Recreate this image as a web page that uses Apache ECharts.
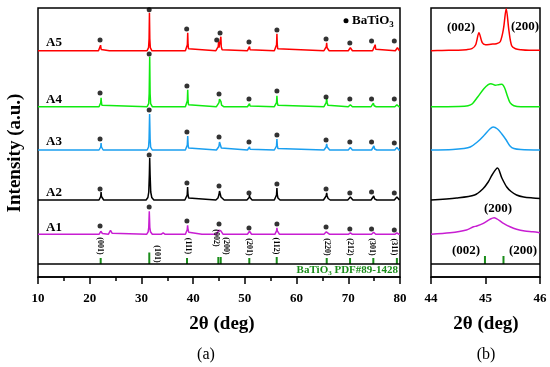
<!DOCTYPE html>
<html><head><meta charset="utf-8">
<script src="https://cdn.jsdelivr.net/npm/echarts@6/dist/echarts.min.js"></script>
<style>html,body{margin:0;padding:0;background:#fff}#c{width:550px;height:367px}</style>
</head><body><div id="c"></div>
<script>
// ---------------- DATA ----------------
const sampleNames = ['A1', 'A2', 'A3', 'A4', 'A5'];
const xTicksLeft = [10, 20, 30, 40, 50, 60, 70, 80];
const xTicksRight = [44, 45, 46];

// full pattern, 2theta (deg) vs intensity above each sample's own baseline (a.u.)
const fullA1 = [[10,0],
 [21.8,0],[22.05,1],[22.15,3],[22.22,4.3],[22.3,2],[22.45,0.8],[22.7,0],
 [23.6,0],[23.9,1.5],[24.02,4],[24.1,5.3],[24.2,3.5],[24.35,1],[24.6,0],
 [31.0,0],[31.3,2.5],[31.42,7],[31.52,23],[31.62,7],[31.75,2.5],[32.1,0],
 [33.8,0],[34.2,1.5],[34.6,0],
 [38.5,0],[38.75,2],[38.85,4.5],[38.93,9],[39.02,4.5],[39.15,2],[39.4,0],
 [41.7,0],[42.0,1.2],[42.3,0],
 [44.5,0],[44.8,2],[44.95,4],[45.1,5.5],[45.2,6],[45.35,3.5],[45.5,1.5],[45.8,0],
 [46.2,0],[46.5,0.8],[46.8,0],
 [50.5,0],[50.8,1],[50.9,3],[51.0,1],[51.3,0],
 [55.8,0],[56.05,1.5],[56.13,3.5],[56.2,6.5],[56.28,3.5],[56.4,1.5],[56.7,0],
 [65.3,0],[65.6,1],[65.75,2.5],[65.83,3.5],[65.92,2],[66.1,0.8],[66.4,0],
 [70.0,0],[70.4,1.5],[70.8,0],
 [74.5,0],[74.9,2],[75.3,0],
 [79.0,0],[79.4,1.5],[79.8,0],
 [80,0]];
const fullA2 = [[10,0],
 [21.8,0],[22.05,1.5],[22.13,3.5],[22.2,8],[22.27,3.5],[22.38,1.5],[22.7,0],
 [30.9,0],[31.25,2.5],[31.42,8],[31.53,25],[31.6,42],[31.68,25],[31.8,8],[32.0,2.5],[32.4,0],
 [38.4,0],[38.72,2],[38.85,5],[38.93,13],[39.01,5],[39.14,2],[39.5,0],
 [44.4,0],[44.8,2],[44.98,5],[45.1,9],[45.15,10],[45.25,7],[45.38,3],[45.6,1],[46.0,0],
 [50.4,0],[50.72,1.2],[50.83,2.5],[50.9,5],[50.98,2.5],[51.1,1.2],[51.4,0],
 [55.7,0],[56.0,2],[56.12,5],[56.2,12],[56.28,5],[56.4,2],[56.8,0],
 [65.2,0],[65.55,1.5],[65.72,4],[65.82,7],[65.92,4],[66.1,1.5],[66.5,0],
 [69.9,0],[70.25,1],[70.4,3],[70.55,1],[70.9,0],
 [74.4,0],[74.75,1.2],[74.92,4],[75.08,1.2],[75.5,0],
 [78.9,0],[79.25,1],[79.4,3],[79.55,1],[79.9,0],
 [80,0]];
const fullA3 = [[10,0],
 [21.8,0],[22.05,1.2],[22.13,3],[22.2,7],[22.27,3],[22.35,1.2],[22.6,0],
 [23.7,0],[24.0,2],[24.3,0],
 [31.1,0],[31.38,3],[31.48,11],[31.58,36],[31.68,11],[31.78,3],[32.1,0],
 [38.5,0],[38.78,2],[38.87,5],[38.95,14],[39.03,5],[39.12,2],[39.4,0],
 [44.5,0],[44.8,1],[44.98,3.5],[45.1,8],[45.17,9.5],[45.3,6],[45.45,2],[45.8,0],
 [50.5,0],[50.8,0.8],[50.9,3],[51.0,0.8],[51.3,0],
 [55.7,0],[56.0,1.5],[56.12,4],[56.2,11],[56.28,4],[56.4,1.5],[56.7,0],
 [65.3,0],[65.6,1.2],[65.72,3],[65.82,6],[65.92,3],[66.05,1.2],[66.4,0],
 [70.0,0],[70.4,2.5],[70.8,0],
 [74.5,0],[74.8,1],[74.95,4],[75.1,1],[75.5,0],
 [79.0,0],[79.4,2.5],[79.8,0],
 [80,0]];
const fullA4 = [[10,0],
 [21.8,0],[22.05,1.5],[22.13,4],[22.2,9],[22.27,4],[22.35,1.5],[22.6,0],
 [31.1,0],[31.4,3],[31.5,13],[31.6,50],[31.68,13],[31.78,3],[32.1,0],
 [38.5,0],[38.8,2],[38.88,6],[38.95,17],[39.02,6],[39.1,2],[39.4,0],
 [44.5,0],[44.85,1.5],[45.0,4],[45.1,7.5],[45.25,8],[45.38,5],[45.5,1.5],[45.9,0],
 [50.5,0],[50.8,0.8],[50.9,3],[51.0,0.8],[51.3,0],
 [55.7,0],[56.0,1.5],[56.12,4],[56.2,11],[56.28,4],[56.4,1.5],[56.7,0],
 [65.3,0],[65.6,1.5],[65.72,4],[65.82,8],[65.92,4],[66.05,1.5],[66.4,0],
 [70.0,0],[70.4,2],[70.8,0],
 [74.4,0],[74.7,1],[74.85,3.5],[75.0,1],[75.4,0],
 [79.0,0],[79.4,2],[79.8,0],
 [80,0]];
const fullA5 = [[10,0],
 [21.7,0],[21.98,1.2],[22.1,5.5],[22.22,1.2],[22.5,0],
 [23.8,0],[24.1,1],[24.4,0],
 [31.1,0],[31.38,3],[31.48,12],[31.55,38],[31.62,12],[31.72,3],[32.0,0],
 [38.5,0],[38.8,2],[38.88,6],[38.95,18],[39.02,6],[39.1,2],[39.4,0],
 [44.4,0],[44.75,1.5],[44.85,4],[44.92,9],[45.0,3],[45.15,2.5],[45.28,5],[45.36,14],[45.44,4],[45.6,1],[45.9,0],
 [50.5,0],[50.8,1],[50.9,4],[51.0,1],[51.3,0],
 [55.7,0],[56.05,2],[56.13,6],[56.2,17],[56.27,6],[56.35,2],[56.7,0],
 [65.3,0],[65.65,1.5],[65.75,4],[65.82,8],[65.9,3],[66.0,1],[66.3,0],
 [70.0,0],[70.3,1],[70.4,3],[70.5,1],[70.8,0],
 [74.7,0],[75.05,1.5],[75.2,6],[75.3,1.5],[75.6,0],
 [79.1,0],[79.4,1],[79.5,3],[79.6,1],[79.9,0],
 [80,0]];

// BaTiO3 marker dots (2theta, height above baseline)
const dotsA1 = [[22.0,8.3],[31.5,27.3],[38.8,13.3],[45.0,10.3],[50.8,6.3],[56.2,10.3],[65.7,7.3],[70.3,5.3],[74.5,5.3],[78.9,4.3]];
const dotsA2 = [[22.0,11],[31.5,45],[38.8,17],[45.0,14],[50.8,7],[56.2,16],[65.7,11],[70.3,7],[74.5,8],[78.9,7]];
const dotsA3 = [[22.0,11],[31.5,40],[38.8,18],[45.0,13],[50.8,8],[56.2,15],[65.7,10],[70.3,8],[74.5,8],[78.9,7]];
const dotsA4 = [[22.0,13.7],[31.5,52.7],[38.8,20.7],[45.0,12.7],[50.8,7.7],[56.2,15.7],[65.7,9.7],[70.3,7.7],[74.5,7.7],[78.9,7.7]];
const dotsA5 = [[22.0,10.7],[31.5,41],[38.75,21.7],[44.56,10.7],[45.2,17.7],[50.8,8.7],[56.2,20.7],[65.7,11.7],[70.3,7.7],[74.5,9.7],[78.9,9.7]];

// zoomed 44-46 deg region
const zoomA1 = [[44,0],[44.35,1.5],[44.65,4.3],[44.78,7.5],[44.84,8.3],[44.96,11],[45.08,15],[45.16,16.6],[45.25,14],[45.33,11],[45.45,7.5],[45.57,5],[45.72,3.3],[45.87,2.6],[46,1.6]];
const zoomA2 = [[44,0],[44.47,2],[44.8,5],[44.95,11],[45.05,18],[45.12,25],[45.22,32],[45.3,22],[45.39,13],[45.47,8.5],[45.57,5],[45.7,3],[45.87,2],[46,1.5]];
const zoomA3 = [[44,0],[44.4,0.5],[44.6,1.5],[44.72,3],[44.85,8],[44.98,15],[45.08,21],[45.14,23],[45.22,21],[45.3,16],[45.38,10],[45.45,4],[45.52,1.5],[45.65,0.5],[46,0]];
const zoomA4 = [[44,0],[44.5,0.3],[44.68,1],[44.76,3],[44.86,10],[44.97,18],[45.05,22],[45.1,23],[45.18,21.5],[45.24,22],[45.3,22.5],[45.35,19],[45.4,11],[45.45,4],[45.52,1],[45.65,0],[46,0]];
const zoomA5 = [[44,0],[44.2,0.3],[44.5,0.5],[44.65,1],[44.75,2],[44.82,6],[44.88,18],[44.94,8],[45.0,6],[45.1,6.5],[45.2,7],[45.27,9],[45.33,22],[45.38,42],[45.43,20],[45.48,5],[45.55,2],[45.65,1],[45.8,0.5],[46,0.5]];

// BaTiO3 reference pattern PDF#89-1428 (2theta, relative stick height)
const refPos = [22.12, 31.52, 38.81, 44.87, 45.33, 50.86, 56.16, 65.83, 70.34, 74.84, 79.4];
const refHeight = [6, 11.5, 6, 7, 7, 6, 7, 6, 6, 6, 6];
const refHkl = ['(001)', '(101)', '(111)', '(002)', '(200)', '(201)', '(112)', '(220)', '(212)', '(301)', '(311)'];
const refZoomPos = [44.99, 45.33];
const refZoomHeight = [8, 8];

// ---------------- LAYOUT / STYLE ----------------
const colors = ['#c81ed2', '#000000', '#1a9ff0', '#10ea10', '#ff0000'];
const baselines = [42.7, 77, 127, 170.3, 226.3];
const refBase = 13;
const FONT = '"Liberation Serif", "Times New Roman", serif';
const refGreen = '#1a8c1a';

const fulls = [fullA1, fullA2, fullA3, fullA4, fullA5];
const dots = [dotsA1, dotsA2, dotsA3, dotsA4, dotsA5];
const zooms = [zoomA1, zoomA2, zoomA3, zoomA4, zoomA5];

const chart = echarts.init(document.getElementById('c'), null, {renderer: 'canvas'});

function xAxisCfg(gi, min, max, interval, minor) {
  return {
    gridIndex: gi, type: 'value', min: min, max: max, interval: interval,
    axisLine: {onZero: false, lineStyle: {color: '#000', width: 1.5}},
    axisTick: {show: true, inside: false, length: 7, lineStyle: {color: '#000', width: 1.5}},
    minorTick: {show: minor, splitNumber: 2, length: 4, lineStyle: {color: '#000', width: 1.5}},
    axisLabel: {color: '#000', fontFamily: FONT, fontWeight: 'bold', fontSize: 13, margin: 15},
    splitLine: {show: false}, minorSplitLine: {show: false}
  };
}

const series = [];
for (let i = 0; i < 5; i++) {
  const b = baselines[i];
  const s = {
    type: 'line', xAxisIndex: 0, yAxisIndex: 0, silent: true,
    data: fulls[i].map(p => [p[0], b + p[1]]),
    showSymbol: false, symbol: 'none', smooth: false,
    lineStyle: {color: colors[i], width: 1.5}, itemStyle: {color: colors[i]}, z: 3
  };
  if (i === 0) {
    s.markLine = {silent: true, symbol: 'none', label: {show: false},
      lineStyle: {color: '#000', width: 1.5, type: 'solid'}, data: [{yAxis: refBase}]};
  }
  series.push(s);
  series.push({
    type: 'line', xAxisIndex: 1, yAxisIndex: 1, silent: true,
    data: zooms[i].map(p => [p[0], b + p[1]]),
    showSymbol: false, symbol: 'none', smooth: 0.3,
    lineStyle: {color: colors[i], width: 1.5}, itemStyle: {color: colors[i]}, z: 3,
    markLine: i === 0 ? {silent: true, symbol: 'none', label: {show: false},
      lineStyle: {color: '#000', width: 1.5, type: 'solid'}, data: [{yAxis: refBase}]} : undefined
  });
  series.push({
    type: 'scatter', xAxisIndex: 0, yAxisIndex: 0, silent: true,
    data: dots[i].map(p => [p[0], b + p[1]]),
    symbol: 'circle', symbolSize: 5, itemStyle: {color: '#000'}, z: 5
  });
}

function refRender(params, api) {
  const x = api.value(0), h = api.value(1);
  const p0 = api.coord([x, refBase]);
  const p1 = api.coord([x, refBase + h]);
  return {type: 'line', shape: {x1: p0[0], y1: p0[1], x2: p1[0], y2: p1[1]},
    style: {stroke: refGreen, lineWidth: 2}};
}
series.push({type: 'custom', xAxisIndex: 0, yAxisIndex: 0, silent: true,
  data: refPos.map((p, k) => [p, refHeight[k]]), renderItem: refRender, z: 4});
series.push({type: 'custom', xAxisIndex: 1, yAxisIndex: 1, silent: true,
  data: refZoomPos.map((p, k) => [p, refZoomHeight[k]]), renderItem: refRender, z: 4});

// ---------------- TEXT ----------------
const ctx = document.createElement('canvas').getContext('2d');
function measure(t, size, weight) { ctx.font = (weight || 'bold') + ' ' + size + 'px ' + FONT; return ctx.measureText(t).width; }
function txt(x, y, t, size, o) {
  o = o || {};
  return {type: 'text', x: x, y: y, rotation: o.rot || 0, silent: true, z: 10,
    style: {text: t, fill: o.color || '#000', align: o.align || 'center', verticalAlign: 'middle',
      font: (o.weight || 'bold') + ' ' + size + 'px ' + FONT}};
}
const graphic = [];
graphic.push(txt(15, 153, 'Intensity (a.u.)', 19, {rot: Math.PI / 2}));
graphic.push(txt(222, 324, '2θ (deg)', 19));
graphic.push(txt(486, 324, '2θ (deg)', 19));
graphic.push(txt(206, 355, '(a)', 16, {weight: 'normal'}));
graphic.push(txt(486, 355, '(b)', 16, {weight: 'normal'}));
const labelY = [228, 193, 142, 100, 43];
sampleNames.forEach((n, i) => graphic.push(txt(46, labelY[i], n, 13, {align: 'left'})));
// legend
graphic.push({type: 'circle', shape: {cx: 346, cy: 20.7, r: 2.5}, style: {fill: '#000'}, silent: true, z: 10});
graphic.push(txt(352, 20.5, 'BaTiO', 13, {align: 'left'}));
graphic.push(txt(352 + measure('BaTiO', 13), 24.5, '3', 9, {align: 'left'}));
// reference caption (right aligned at 398)
(function () {
  const right = 398, y = 270.5;
  const w2 = measure(' PDF#89-1428', 11);
  const w3 = measure('3', 7);
  graphic.push(txt(right, y, ' PDF#89-1428', 11, {align: 'right', color: refGreen}));
  graphic.push(txt(right - w2, y + 2.5, '3', 7, {align: 'right', color: refGreen}));
  graphic.push(txt(right - w2 - w3, y, 'BaTiO', 11, {align: 'right', color: refGreen}));
})();
// hkl labels (rotated)
const hklXY = [[100, 246], [157, 254], [188, 246], [216, 238], [226, 246], [249, 247], [276, 246], [327, 247], [350, 247], [372, 247], [394, 247]];
refHkl.forEach((t, k) => graphic.push(txt(hklXY[k][0], hklXY[k][1], t, 8, {rot: -Math.PI / 2})));
// zoom panel labels
graphic.push(txt(461, 28, '(002)', 13));
graphic.push(txt(525, 27, '(200)', 13));
graphic.push(txt(498, 209, '(200)', 13));
graphic.push(txt(466, 251, '(002)', 13));
graphic.push(txt(523, 251, '(200)', 13));

chart.setOption({
  animation: false,
  backgroundColor: '#fff',
  grid: [
    {left: 38, top: 8, width: 362, height: 269, show: true, borderColor: '#000', borderWidth: 1.5, backgroundColor: 'transparent'},
    {left: 431, top: 8, width: 109, height: 269, show: true, borderColor: '#000', borderWidth: 1.5, backgroundColor: 'transparent'}
  ],
  xAxis: [xAxisCfg(0, xTicksLeft[0], xTicksLeft[xTicksLeft.length - 1], 10, true),
          xAxisCfg(1, xTicksRight[0], xTicksRight[xTicksRight.length - 1], 1, false)],
  yAxis: [{gridIndex: 0, type: 'value', min: 0, max: 269, show: false, splitLine: {show: false}},
          {gridIndex: 1, type: 'value', min: 0, max: 269, show: false, splitLine: {show: false}}],
  series: series,
  graphic: graphic
});
</script>
</body></html>
